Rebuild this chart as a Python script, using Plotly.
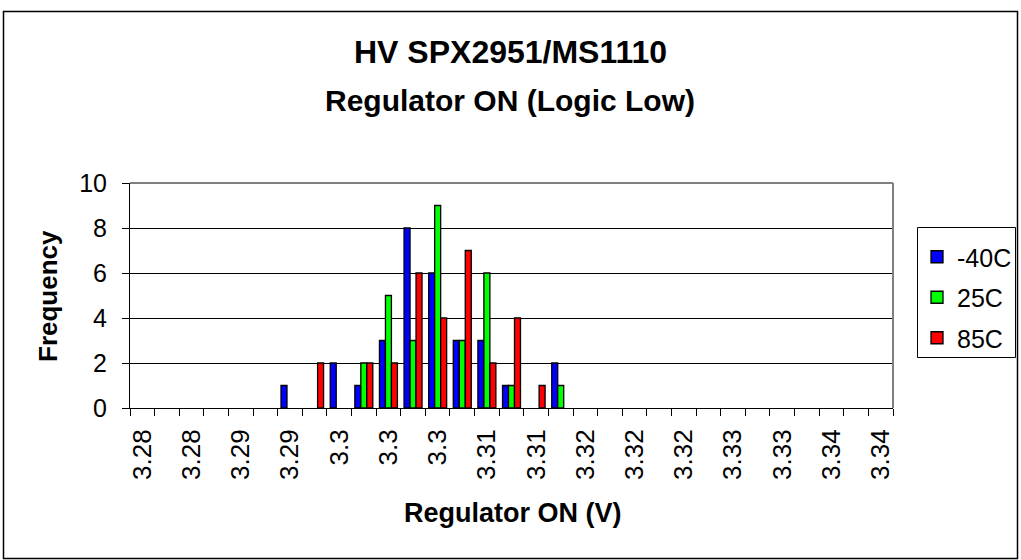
import plotly.graph_objects as go

# ---- data ----
bins = [round(3.280 + 0.002 * i, 3) for i in range(31)]
bin_labels = ["3.28", "", "3.28", "", "3.29", "", "3.29", "", "3.3", "", "3.3", "",
              "3.3", "", "3.31", "", "3.31", "", "3.32", "", "3.32", "", "3.32", "",
              "3.33", "", "3.33", "", "3.34", "", "3.34"]
series_names = ["-40C", "25C", "85C"]
m40 = [0, 0, 0, 0, 0, 0, 1, 0, 2, 1, 3, 8, 6, 3, 3, 1, 0, 2, 0, 0, 0, 0, 0, 0, 0, 0, 0, 0, 0, 0, 0]
p25 = [0, 0, 0, 0, 0, 0, 0, 0, 0, 2, 5, 3, 9, 3, 6, 1, 0, 1, 0, 0, 0, 0, 0, 0, 0, 0, 0, 0, 0, 0, 0]
p85 = [0, 0, 0, 0, 0, 0, 0, 2, 0, 2, 2, 6, 4, 7, 2, 4, 1, 0, 0, 0, 0, 0, 0, 0, 0, 0, 0, 0, 0, 0, 0]
colors = ["#0000FF", "#00FF00", "#FF0000"]

W, H = 1021, 560
L, R, T, B = 130, 893, 183, 408
FONT = "Liberation Sans, Arial, sans-serif"

def px(x):
    return (x - L) / (R - L)

def py(y):
    return (B - y) / (B - T)

cats = [f"{v:.3f}" for v in bins]

fig = go.Figure()
for name, vals, col in zip(series_names, [m40, p25, p85], colors):
    fig.add_trace(go.Bar(
        x=cats, y=[v if v else None for v in vals], name=name, legendgroup=name,
        marker=dict(color=col, line=dict(color="black", width=1.3)),
    ))

fig.update_layout(
    width=W, height=H,
    margin=dict(l=L, r=W - R, t=T, b=H - B, autoexpand=False),
    paper_bgcolor="white", plot_bgcolor="white",
    barmode="group", bargap=0.27, bargroupgap=0,
    font=dict(family=FONT, size=25, color="black"),
    showlegend=True,
    legend=dict(x=px(917), y=py(234), xanchor="left", yanchor="top",
                borderwidth=0, bgcolor="rgba(0,0,0,0)",
                font=dict(size=25, family=FONT), traceorder="grouped",
                tracegroupgap=5, itemwidth=30),
    xaxis=dict(type="category", categoryorder="array", categoryarray=cats,
               tickmode="array", tickvals=cats, ticktext=bin_labels,
               tickson="boundaries", ticks="outside", ticklen=7, tickcolor="black",
               tickangle=-90, showline=True, linecolor="black", linewidth=1,
               showgrid=False, tickfont=dict(size=26, family=FONT),
               ticklabelstandoff=10, range=[-0.5, 30.5]),
    yaxis=dict(range=[0, 10], tickvals=[0, 2, 4, 6, 8, 10], ticks="outside", ticklen=7,
               tickcolor="black", showline=True, linecolor="black", linewidth=1,
               showgrid=True, gridcolor="black", gridwidth=1, zeroline=False,
               tickfont=dict(size=25, family=FONT), ticklabelstandoff=10),
)

# plot-area border (gray top and right)
fig.add_shape(type="line", xref="paper", yref="paper", x0=0, x1=1, y0=1, y1=1,
              line=dict(color="#808080", width=2), layer="above")
fig.add_shape(type="line", xref="paper", yref="paper", x0=1, x1=1, y0=0, y1=1,
              line=dict(color="#808080", width=2), layer="above")
# legend box
fig.add_shape(type="rect", xref="paper", yref="paper",
              x0=px(917.5), x1=px(1015.5), y0=py(357.5), y1=py(227.5),
              line=dict(color="black", width=1), layer="below")
# outer chart frame
fig.add_shape(type="rect", xref="paper", yref="paper",
              x0=px(3.5), x1=px(1017.5), y0=py(558.5), y1=py(11.5),
              line=dict(color="black", width=1.5), layer="below")

ann = [
    dict(text="<b>HV SPX2951/MS1110</b>", x=px(510), y=py(52), size=32),
    dict(text="<b>Regulator ON (Logic Low)</b>", x=px(510), y=py(100), size=30),
    dict(text="<b>Regulator ON (V)</b>", x=px(513), y=py(513), size=27),
]
for a in ann:
    fig.add_annotation(text=a["text"], x=a["x"], y=a["y"], xref="paper", yref="paper",
                       showarrow=False, xanchor="center", yanchor="middle",
                       font=dict(size=a["size"], family=FONT, color="black"))
fig.add_annotation(text="<b>Frequency</b>", x=px(48), y=py(296), xref="paper", yref="paper",
                   showarrow=False, textangle=-90, xanchor="center", yanchor="middle",
                   font=dict(size=26, family=FONT, color="black"))

fig.write_html("out.html", config={"displayModeBar": False},
               post_script="document.body.style.margin='0';document.body.style.overflow='hidden';")
